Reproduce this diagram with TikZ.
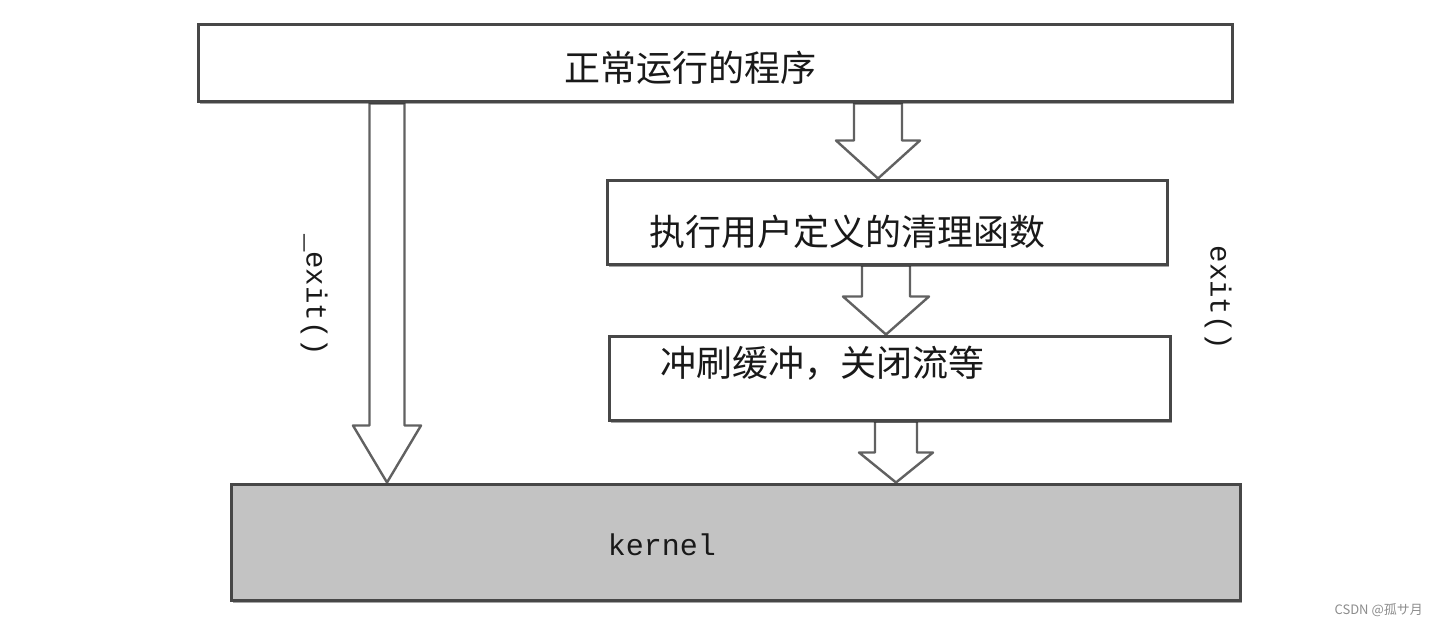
\documentclass[tikz,border=0pt]{standalone}
\usepackage{fontspec}
\newfontfamily\cjk{Noto Sans CJK SC}
\setmonofont{Liberation Mono}
\usetikzlibrary{shadows,calc}
\pgfdeclarelayer{background}
\pgfsetlayers{background,main}
\definecolor{kgray}{HTML}{C3C3C3}
\newcommand\fatarrow[5]{%
  \draw[fatarr] let \p1=(#1), \p2=(#2) in
    (\x1-#3,\y1) -- (\x1-#3,\y2+#5) -- (\x1-#4,\y2+#5) -- (\x1,\y2)
    -- (\x1+#4,\y2+#5) -- (\x1+#3,\y2+#5) -- (\x1+#3,\y1) -- cycle;}
\begin{document}
\begin{tikzpicture}[x=1pt,y=-1pt,
  box/.style={draw=black!72, line width=3pt, fill=white, inner sep=0pt,
    drop shadow={shadow xshift=1.5pt, shadow yshift=-2.5pt, opacity=0.35, fill=black}},
  fatarr/.style={draw=black!62, line width=2.4pt, fill=white, line join=round},
  cjktext/.style={font=\cjk\fontsize{36}{40}\selectfont, text=black!90, inner sep=0pt},
  monotext/.style={font=\ttfamily\fontsize{29}{32}\selectfont, text=black!90, inner sep=0pt}]
\useasboundingbox (0,0) rectangle (1436,626);
% boxes
\node[box, minimum width=1034pt, minimum height=77pt] (top) at (715,63.5) {};
\node[box, minimum width=560pt, minimum height=84pt] (b2) at (887,222) {};
\node[box, minimum width=561pt, minimum height=84pt] (b3) at (889.5,378) {};
\node[box, fill=kgray, minimum width=1009pt, minimum height=116pt] (kern) at (735.5,542) {};
% texts
\node[cjktext] (t1) at (690,68) {正常运行的程序};
\node[cjktext] (t2) at (847,232) {执行用户定义的清理函数};
\node[cjktext] (t3) at (822,363) {冲刷缓冲，关闭流等};
\node[font=\ttfamily\fontsize{30}{33}\selectfont, text=black!90, inner sep=0pt] (t4) at (662,545) {kernel};
\node[monotext, rotate=-90] (ex1) at (314,295) {\_exit()};
\node[monotext, rotate=-90] (ex2) at (1218,298) {exit()};
\node[anchor=east, text=black!45, inner sep=0pt, font=\cjk\fontsize{13}{15}\selectfont] (wm) at (1423,610) {CSDN @孤サ月};
% arrows
\begin{pgfonlayer}{background}
\fatarrow{387,0 |- top.south}{387,0 |- kern.north}{17.5pt}{34pt}{57pt}
\fatarrow{878,0 |- top.south}{878,0 |- b2.north}{24pt}{42pt}{38pt}
\fatarrow{886,0 |- b2.south}{886,0 |- b3.north}{24pt}{43pt}{38pt}
\fatarrow{896,0 |- b3.south}{896,0 |- kern.north}{21pt}{37pt}{30pt}
\end{pgfonlayer}
\end{tikzpicture}
\end{document}
